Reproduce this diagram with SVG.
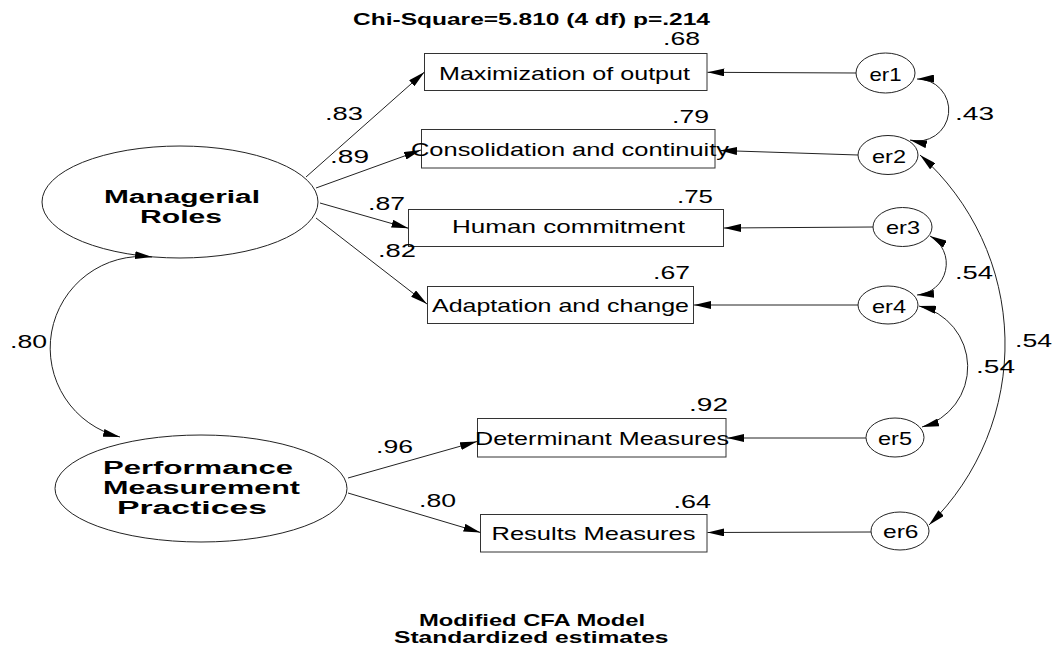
<svg xmlns="http://www.w3.org/2000/svg" width="1060" height="648" viewBox="0 0 1060 648">
<defs>
<style>
.bg{fill:#ffffff}
.box{fill:#ffffff;stroke:#333333;stroke-width:1}
.ell{fill:#ffffff;stroke:#222222;stroke-width:1}
.lbl{font-family:"Liberation Sans",Arial,sans-serif;font-size:18.5px;fill:#000000}
.num{font-family:"Liberation Sans",Arial,sans-serif;font-size:19px;fill:#000000}
.lat{font-family:"Liberation Sans",Arial,sans-serif;font-size:18px;font-weight:bold;fill:#000000}
.ttl{font-family:"Liberation Sans",Arial,sans-serif;font-size:16.5px;font-weight:bold;fill:#000000}
.ln{fill:none;stroke:#222222;stroke-width:1}
</style>
<marker id="ah" markerUnits="userSpaceOnUse" markerWidth="17" markerHeight="8" refX="17" refY="4" orient="auto-start-reverse">
<path d="M0,0 L17,4 L0,8 z" fill="#000000"/>
</marker>
</defs>
<rect class="bg" x="0" y="0" width="1060" height="648"/>

<text class="ttl" x="353" y="25" textLength="357" lengthAdjust="spacingAndGlyphs">Chi-Square=5.810 (4 df) p=.214</text>

<g id="managerial-roles">
<ellipse class="ell" cx="180" cy="202" rx="138" ry="56"/>
<text class="lat" x="104" y="203" textLength="156" lengthAdjust="spacingAndGlyphs">Managerial</text>
<text class="lat" x="140" y="223" textLength="82" lengthAdjust="spacingAndGlyphs">Roles</text>
</g>

<g id="performance-measurement-practices">
<ellipse class="ell" cx="201" cy="488.5" rx="146" ry="53.5"/>
<text class="lat" x="103" y="474" textLength="190" lengthAdjust="spacingAndGlyphs">Performance</text>
<text class="lat" x="103" y="494" textLength="197" lengthAdjust="spacingAndGlyphs">Measurement</text>
<text class="lat" x="117" y="514" textLength="150" lengthAdjust="spacingAndGlyphs">Practices</text>
</g>

<g id="maximization">
<rect class="box" x="424.5" y="53.5" width="282.5" height="37"/>
<text class="lbl" x="439" y="80" textLength="251" lengthAdjust="spacingAndGlyphs">Maximization of output</text>
<text class="num" x="663" y="45" textLength="37" lengthAdjust="spacingAndGlyphs">.68</text>
</g>

<g id="consolidation">
<rect class="box" x="421.5" y="129.5" width="293.5" height="38.5"/>
<text class="lbl" x="411" y="156" textLength="318" lengthAdjust="spacingAndGlyphs">Consolidation and continuity</text>
<text class="num" x="672" y="123" textLength="37" lengthAdjust="spacingAndGlyphs">.79</text>
</g>

<g id="human-commitment">
<rect class="box" x="408.5" y="209.5" width="315" height="37"/>
<text class="lbl" x="452" y="233" textLength="233" lengthAdjust="spacingAndGlyphs">Human commitment</text>
<text class="num" x="677" y="203" textLength="36" lengthAdjust="spacingAndGlyphs">.75</text>
</g>

<g id="adaptation">
<rect class="box" x="427.5" y="286.5" width="266" height="37"/>
<text class="lbl" x="432" y="312" textLength="257" lengthAdjust="spacingAndGlyphs">Adaptation and change</text>
<text class="num" x="653" y="279" textLength="37" lengthAdjust="spacingAndGlyphs">.67</text>
</g>

<g id="determinant-measures">
<rect class="box" x="477.5" y="418.5" width="248.5" height="38.5"/>
<text class="lbl" x="475" y="445" textLength="254" lengthAdjust="spacingAndGlyphs">Determinant Measures</text>
<text class="num" x="689" y="411" textLength="39" lengthAdjust="spacingAndGlyphs">.92</text>
</g>

<g id="results-measures">
<rect class="box" x="480.5" y="514.5" width="226.5" height="37.5"/>
<text class="lbl" x="491.5" y="540" textLength="204" lengthAdjust="spacingAndGlyphs">Results Measures</text>
<text class="num" x="673.5" y="508" textLength="37.5" lengthAdjust="spacingAndGlyphs">.64</text>
</g>

<g id="er1">
<ellipse class="ell" cx="885.5" cy="73" rx="29.5" ry="20"/>
<text class="lbl" x="869.5" y="81" textLength="32" lengthAdjust="spacingAndGlyphs">er1</text>
</g>
<g id="er2">
<ellipse class="ell" cx="888" cy="155" rx="30" ry="19.5"/>
<text class="lbl" x="872" y="163" textLength="34" lengthAdjust="spacingAndGlyphs">er2</text>
</g>
<g id="er3">
<ellipse class="ell" cx="902.5" cy="227" rx="29.5" ry="19.5"/>
<text class="lbl" x="886" y="234" textLength="34" lengthAdjust="spacingAndGlyphs">er3</text>
</g>
<g id="er4">
<ellipse class="ell" cx="888" cy="305" rx="30" ry="19"/>
<text class="lbl" x="872" y="313" textLength="34" lengthAdjust="spacingAndGlyphs">er4</text>
</g>
<g id="er5">
<ellipse class="ell" cx="895" cy="437.5" rx="29" ry="19.5"/>
<text class="lbl" x="878" y="445" textLength="34" lengthAdjust="spacingAndGlyphs">er5</text>
</g>
<g id="er6">
<ellipse class="ell" cx="900" cy="531" rx="29" ry="19"/>
<text class="lbl" x="883" y="538" textLength="35.5" lengthAdjust="spacingAndGlyphs">er6</text>
</g>

<g id="connectors">
<line class="ln" x1="306" y1="177" x2="424.5" y2="72" marker-end="url(#ah)"/>
<line class="ln" x1="316" y1="188" x2="421" y2="150" marker-end="url(#ah)"/>
<line class="ln" x1="320" y1="203" x2="408.5" y2="228.3" marker-end="url(#ah)"/>
<line class="ln" x1="316" y1="218" x2="427" y2="304" marker-end="url(#ah)"/>
<line class="ln" x1="348" y1="478" x2="477" y2="441.5" marker-end="url(#ah)"/>
<line class="ln" x1="348" y1="493" x2="480.5" y2="532.5" marker-end="url(#ah)"/>

<line class="ln" x1="856" y1="73" x2="707.5" y2="72.3" marker-end="url(#ah)"/>
<line class="ln" x1="858" y1="155" x2="720" y2="150.5" marker-end="url(#ah)"/>
<line class="ln" x1="873" y1="227" x2="724" y2="228" marker-end="url(#ah)"/>
<line class="ln" x1="858" y1="305" x2="694" y2="305" marker-end="url(#ah)"/>
<line class="ln" x1="866" y1="438" x2="727" y2="438" marker-end="url(#ah)"/>
<line class="ln" x1="871" y1="532" x2="707.5" y2="532.5" marker-end="url(#ah)"/>

<path class="ln" d="M152,257 A91.6,91.6 0 0 0 120,437" marker-start="url(#ah)" marker-end="url(#ah)"/>
<path class="ln" d="M917,79 A31,31 0 1 1 910,140" marker-start="url(#ah)" marker-end="url(#ah)"/>
<path class="ln" d="M930,236 A31.5,31.5 0 0 1 917,295" marker-start="url(#ah)" marker-end="url(#ah)"/>
<path class="ln" d="M919,306 A62.4,62.4 0 0 1 922,427" marker-start="url(#ah)" marker-end="url(#ah)"/>
<path class="ln" d="M920,155 A253,253 0 0 1 929,525" marker-start="url(#ah)" marker-end="url(#ah)"/>

<text class="num" x="325" y="120" textLength="38" lengthAdjust="spacingAndGlyphs">.83</text>
<text class="num" x="330" y="163" textLength="39" lengthAdjust="spacingAndGlyphs">.89</text>
<text class="num" x="368" y="210" textLength="37" lengthAdjust="spacingAndGlyphs">.87</text>
<text class="num" x="378" y="257" textLength="38" lengthAdjust="spacingAndGlyphs">.82</text>
<text class="num" x="376" y="453" textLength="37" lengthAdjust="spacingAndGlyphs">.96</text>
<text class="num" x="419" y="507" textLength="37" lengthAdjust="spacingAndGlyphs">.80</text>
<text class="num" x="10" y="348" textLength="37" lengthAdjust="spacingAndGlyphs">.80</text>
<text class="num" x="955" y="120" textLength="39" lengthAdjust="spacingAndGlyphs">.43</text>
<text class="num" x="955" y="279" textLength="38" lengthAdjust="spacingAndGlyphs">.54</text>
<text class="num" x="1015" y="347" textLength="37" lengthAdjust="spacingAndGlyphs">.54</text>
<text class="num" x="976" y="373" textLength="39" lengthAdjust="spacingAndGlyphs">.54</text>
</g>

<text class="ttl" x="419" y="626" textLength="226" lengthAdjust="spacingAndGlyphs">Modified CFA Model</text>
<text class="ttl" x="394" y="643" textLength="274.5" lengthAdjust="spacingAndGlyphs">Standardized estimates</text>
</svg>
